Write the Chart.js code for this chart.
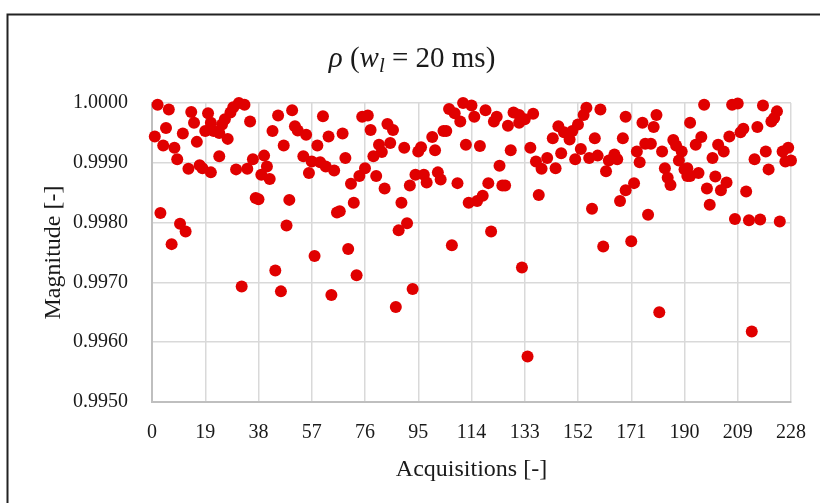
<!DOCTYPE html>
<html>
<head>
<meta charset="utf-8">
<script src="https://cdn.jsdelivr.net/npm/chart.js@4"></script>
<style>
  html, body { margin: 0; padding: 0; background: #fff; }
</style>
</head>
<body>
<canvas id="graficaRho" width="820" height="503"></canvas>
<script>
// ==========================================
// DATOS
// ==========================================
const adquisiciones = [
  1, 2, 3, 4, 5, 6, 7, 8, 9, 10, 11, 12, 13, 14, 15, 16, 17, 18, 19, 20,
  21, 21, 22, 24, 24, 25, 26, 27, 28, 29, 30, 31, 32, 33, 34, 35, 36, 37, 38, 39,
  40, 41, 42, 43, 44, 45, 46, 47, 48, 49, 50, 51, 52, 54, 55, 56, 57, 58, 59, 60,
  61, 62, 63, 64, 65, 66, 67, 68, 69, 70, 71, 72, 73, 74, 75, 76, 77, 78, 79, 80,
  81, 82, 83, 84, 85, 86, 87, 88, 89, 90, 91, 92, 93, 94, 95, 96, 97, 98, 100, 101,
  102, 103, 104, 105, 106, 107, 108, 109, 110, 111, 112, 113, 114, 115, 116, 117, 118, 119, 120, 121,
  122, 123, 124, 125, 126, 127, 128, 129, 131, 131, 132, 133, 134, 135, 136, 137, 138, 139, 141, 143,
  144, 145, 146, 147, 149, 150, 151, 152, 153, 154, 155, 156, 157, 158, 159, 160, 161, 162, 163, 165,
  166, 167, 168, 169, 169, 171, 172, 173, 174, 175, 176, 177, 178, 179, 180, 181, 182, 183, 184, 185,
  186, 187, 188, 189, 190, 191, 191, 192, 192, 194, 195, 196, 197, 198, 199, 200, 201, 202, 203, 204,
  205, 206, 207, 208, 209, 210, 211, 212, 213, 214, 215, 216, 217, 218, 219, 220, 221, 222, 223, 224,
  225, 226, 227, 228
];
const magnitud = [
  0.99944, 0.99997, 0.99816, 0.99929, 0.99958, 0.99989, 0.99764, 0.99925, 0.99906, 0.99798,
  0.99949, 0.99785, 0.99890, 0.99985, 0.99967, 0.99935, 0.99896, 0.99891, 0.99953, 0.99983,
  0.99884, 0.99967, 0.99953, 0.99911, 0.99950, 0.99964, 0.99973, 0.99940, 0.99984, 0.99993,
  0.99889, 1.00000, 0.99693, 0.99997, 0.99890, 0.99969, 0.99906, 0.99841, 0.99839, 0.99880,
  0.99912, 0.99894, 0.99873, 0.99953, 0.99720, 0.99979, 0.99685, 0.99929, 0.99795, 0.99838,
  0.99988, 0.99961, 0.99954, 0.99911, 0.99947, 0.99883, 0.99902, 0.99744, 0.99929, 0.99901,
  0.99978, 0.99894, 0.99944, 0.99679, 0.99887, 0.99817, 0.99819, 0.99949, 0.99908, 0.99756,
  0.99865, 0.99833, 0.99712, 0.99878, 0.99977, 0.99891, 0.99979, 0.99955, 0.99911, 0.99878,
  0.99930, 0.99918, 0.99857, 0.99965, 0.99933, 0.99955, 0.99659, 0.99787, 0.99833, 0.99925,
  0.99799, 0.99862, 0.99689, 0.99880, 0.99919, 0.99926, 0.99880, 0.99867, 0.99943, 0.99921,
  0.99884, 0.99872, 0.99953, 0.99953, 0.99990, 0.99762, 0.99983, 0.99866, 0.99969, 1.00000,
  0.99930, 0.99833, 0.99996, 0.99977, 0.99836, 0.99928, 0.99845, 0.99988, 0.99866, 0.99785,
  0.99969, 0.99977, 0.99895, 0.99862, 0.99862, 0.99962, 0.99921, 0.99984, 0.99980, 0.99967,
  0.99725, 0.99973, 0.99576, 0.99925, 0.99982, 0.99902, 0.99846, 0.99890, 0.99908, 0.99941,
  0.99891, 0.99961, 0.99916, 0.99951, 0.99939, 0.99953, 0.99906, 0.99964, 0.99923, 0.99980,
  0.99992, 0.99908, 0.99823, 0.99941, 0.99912, 0.99989, 0.99760, 0.99886, 0.99904, 0.99914,
  0.99906, 0.99836, 0.99941, 0.99977, 0.99854, 0.99769, 0.99866, 0.99919, 0.99901, 0.99967,
  0.99932, 0.99813, 0.99932, 0.99960, 0.99980, 0.99650, 0.99919, 0.99891, 0.99875, 0.99863,
  0.99938, 0.99929, 0.99904, 0.99919, 0.99889, 0.99878, 0.99891, 0.99878, 0.99967, 0.99930,
  0.99883, 0.99943, 0.99997, 0.99857, 0.99830, 0.99908, 0.99877, 0.99930, 0.99854, 0.99919,
  0.99867, 0.99944, 0.99997, 0.99806, 0.99999, 0.99951, 0.99957, 0.99852, 0.99804, 0.99618,
  0.99906, 0.99960, 0.99805, 0.99996, 0.99919, 0.99889, 0.99969, 0.99975, 0.99986, 0.99802,
  0.99919, 0.99902, 0.99925, 0.99904
];
const ticksX = [0, 19, 38, 57, 76, 95, 114, 133, 152, 171, 190, 209, 228];
const ticksY = [0.995, 0.996, 0.997, 0.998, 0.999, 1.000];

// partes del título: ρ (w_l = 20 ms)
const partesTitulo = [
  { texto: 'ρ', cursiva: true },
  { texto: ' (', cursiva: false },
  { texto: 'w', cursiva: true },
  { texto: 'l', cursiva: true, sub: true },
  { texto: ' = 20 ms)', cursiva: false }
];

// ==========================================
// ESTILO
// ==========================================
const fuente = 'Liberation Serif';
const colorTexto = '#1a1a1a';
const colorPunto = '#e00000';

// marco y título dibujados a mano sobre el canvas
const marcoYTitulo = {
  id: 'marcoYTitulo',
  afterDraw(chart) {
    const ctx = chart.ctx;
    ctx.save();
    ctx.strokeStyle = '#222';
    ctx.lineWidth = 2;
    ctx.strokeRect(7.5, 14.5, 1000, 1000);

    const tam = 29;
    const medir = p => {
      ctx.font = `${p.cursiva ? 'italic ' : ''}${p.sub ? tam * 0.72 : tam}px "${fuente}"`;
      return ctx.measureText(p.texto).width;
    };
    const total = partesTitulo.reduce((acc, p) => acc + medir(p), 0);
    let x = 412 - total / 2;
    ctx.fillStyle = colorTexto;
    ctx.textBaseline = 'alphabetic';
    partesTitulo.forEach(p => {
      const w = medir(p);
      ctx.fillText(p.texto, x, p.sub ? 72 : 67);
      x += w;
    });
    ctx.restore();
  }
};

new Chart(document.getElementById('graficaRho'), {
  type: 'scatter',
  data: {
    datasets: [{
      data: adquisiciones.map((a, i) => ({ x: a, y: magnitud[i] })),
      backgroundColor: colorPunto,
      borderWidth: 0,
      pointRadius: 6,
      pointHoverRadius: 6,
      clip: false
    }]
  },
  options: {
    responsive: false,
    animation: false,
    devicePixelRatio: 1,
    layout: { padding: { left: 0, top: 103, right: 29, bottom: 0 } },
    plugins: { legend: { display: false }, tooltip: { enabled: false } },
    scales: {
      x: {
        type: 'linear',
        min: 0,
        max: 228,
        afterBuildTicks: s => { s.ticks = ticksX.map(v => ({ value: v })); },
        afterFit: s => { s.height = 101; s.paddingLeft = 0; s.paddingRight = 0; },
        grid: { color: '#d9d9d9', lineWidth: 1.5, drawTicks: false },
        border: { color: '#bfbfbf', width: 2 },
        ticks: { color: colorTexto, font: { family: fuente, size: 20 }, padding: 19, maxRotation: 0, autoSkip: false },
        title: { display: true, text: 'Acquisitions [-]', color: colorTexto, font: { family: fuente, size: 24 }, padding: { top: 0, bottom: 18.6 } }
      },
      y: {
        min: 0.995,
        max: 1.0,
        afterBuildTicks: s => { s.ticks = ticksY.map(v => ({ value: v })); },
        afterFit: s => { s.width = 152; s.paddingTop = 0; s.paddingBottom = 0; },
        grid: { color: '#d9d9d9', lineWidth: 1.5, drawTicks: false },
        border: { color: '#bfbfbf', width: 2 },
        ticks: { color: colorTexto, font: { family: fuente, size: 20 }, padding: 24, callback: v => v.toFixed(4) },
        title: { display: true, text: 'Magnitude [-]', color: colorTexto, font: { family: fuente, size: 24 }, padding: { top: 39, bottom: 0 } }
      }
    }
  },
  plugins: [marcoYTitulo]
});
</script>
</body>
</html>
